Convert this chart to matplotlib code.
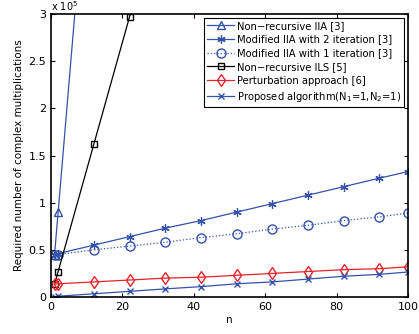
import numpy as np
import matplotlib.pyplot as plt

n = [1, 2, 12, 22, 32, 42, 52, 62, 72, 82, 92, 100]

non_iia = [0.45, 0.90, 5.40, 9.90, 14.4, 18.9, 23.4, 27.9, 32.4, 36.9, 41.4, 45.0]
mod_iia_2 = [0.45, 0.46, 0.55, 0.64, 0.73, 0.81, 0.90, 0.99, 1.08, 1.17, 1.26, 1.33]
mod_iia_1 = [0.45, 0.45, 0.50, 0.54, 0.58, 0.63, 0.67, 0.72, 0.76, 0.81, 0.85, 0.89]
non_ils = [0.135, 0.27, 1.62, 2.97, 4.32, 5.67, 7.02, 8.37, 9.72, 11.07, 12.42, 13.5]
perturb = [0.14, 0.14, 0.16, 0.18, 0.20, 0.21, 0.23, 0.25, 0.27, 0.29, 0.30, 0.32]
proposed = [0.005, 0.008, 0.034, 0.06, 0.086, 0.11, 0.14, 0.16, 0.19, 0.22, 0.24, 0.265]

blue = '#3452a8'
red = '#e8222a'

fig = plt.figure(figsize=(4.19, 3.34), dpi=100)
ax = fig.add_axes([0.1217, 0.1108, 0.852, 0.847])

ax.plot(n, non_iia, '-^', color=blue, lw=0.9, ms=5.5, mfc='none', label='Non\u2212recursive IIA [3]')
ax.plot(n, mod_iia_2, '-', marker=(6, 2, 0), color=blue, lw=0.9, ms=6, mew=0.9,
        label='Modified IIA with 2 iteration [3]')
ax.plot(n, mod_iia_1, ':o', color=blue, lw=0.9, ms=6.5, mfc='none', label='Modified IIA with 1 iteration [3]')
ax.plot(n, non_ils, '-s', color='black', lw=0.9, ms=5, mfc='none', label='Non\u2212recursive ILS [5]')
ax.plot(n, perturb, '-d', color=red, lw=0.9, ms=6, mfc='none', label='Perturbation approach [6]')
ax.plot(n, proposed, '-x', color=blue, lw=0.9, ms=4, label='Proposed algorithm(N$_1$=1,N$_2$=1)')

ax.set_xlim(0, 100)
ax.set_ylim(0, 3)
ax.set_xticks([0, 20, 40, 60, 80, 100])
ax.set_yticks([0, 0.5, 1, 1.5, 2, 2.5, 3])
ax.set_yticklabels(['0', '0.5', '1', '1.5', '2', '2.5', '3'])
ax.tick_params(direction='in', top=True, right=True, labelsize=8, length=3)
for s in ax.spines.values():
    s.set_linewidth(1.2)

ax.set_xlabel('n', fontsize=7.5, labelpad=2)
ax.set_ylabel('Required number of complex multiplications', fontsize=7.5, labelpad=3)
ax.text(0.0, 1.004, 'x 10$^5$', transform=ax.transAxes, fontsize=7, va='bottom', ha='left')

leg = ax.legend(loc='upper right', fontsize=7.2, fancybox=False, framealpha=1,
                edgecolor='black', borderpad=0.3, labelspacing=0.38, handlelength=2.7,
                handletextpad=0.3, borderaxespad=0.35)
leg.get_frame().set_linewidth(0.8)

fig.savefig('out.png', dpi=100)
